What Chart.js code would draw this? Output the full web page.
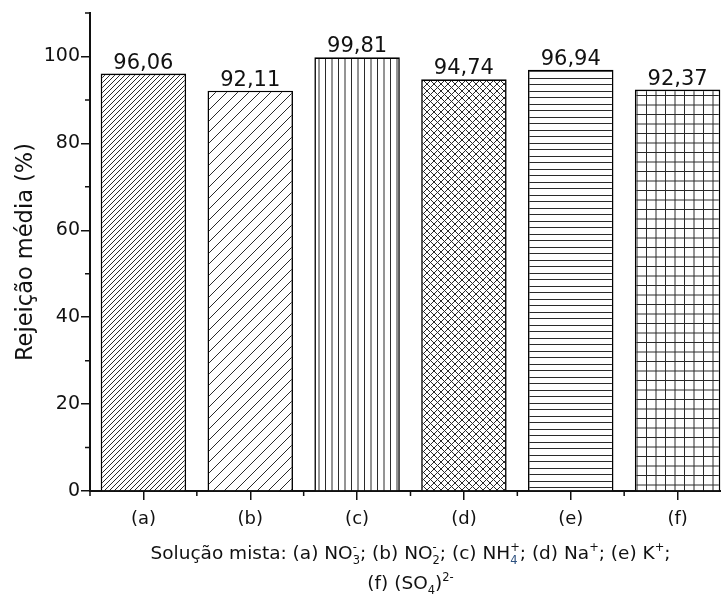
<!DOCTYPE html>
<html><head><meta charset="utf-8">
<script src="https://cdn.jsdelivr.net/npm/chart.js@4.4.0/dist/chart.umd.min.js"></script>
<style>
html,body{margin:0;padding:0;background:#fff;overflow:hidden;width:721px;height:594px}
#wrap{position:relative;width:731px;height:594px}
</style>
</head><body><div id="wrap"><canvas id="c" width="731" height="594"></canvas></div>
<script>
// ---- data ----
const categories = ['(a)', '(b)', '(c)', '(d)', '(e)', '(f)'];
const values = [96.06, 92.11, 99.81, 94.74, 96.94, 92.37];
const yTickValues = [0, 20, 40, 60, 80, 100];
const yMinorTicks = [10, 30, 50, 70, 90, 110];
const yMin = 0, yMax = 110;
const yTitle = 'Rejeição média (%)';
const xTitleLine1 = [['Solução mista: (a) NO','n'],['3','sub'],['-','sup'],['; (b) NO','n'],['2','sub'],['-','sup'],
  ['; (c) NH','n'],['4','sub','#2b4f7e'],['+','sup'],['; (d) Na','n'],['+','sup'],['; (e) K','n'],['+','sup'],[';','n']];
const xTitleLine2 = [['(f) (SO','n'],['4','sub'],[')','n'],['2-','sup']];

const FAM = "'DejaVu Sans'";
const INK = '#111';
const HATCH = '#2a2a2a';

// ---- hatch patterns ----
function makePattern(w, h, draw) {
  const c = document.createElement('canvas');
  c.width = w; c.height = h;
  const g = c.getContext('2d');
  g.fillStyle = '#fff'; g.fillRect(0, 0, w, h);
  g.strokeStyle = HATCH; g.lineWidth = 1;
  draw(g, w, h);
  return c.getContext('2d').createPattern(c, 'repeat');
}
function diag(g, s, dir) {
  g.beginPath();
  if (dir > 0) { // "/"
    g.moveTo(-1, s + 1); g.lineTo(s + 1, -1);
    g.moveTo(-1, 1); g.lineTo(1, -1);
    g.moveTo(s - 1, s + 1); g.lineTo(s + 1, s - 1);
  } else { // "\"
    g.moveTo(-1, -1); g.lineTo(s + 1, s + 1);
    g.moveTo(s - 1, -1); g.lineTo(s + 1, 1);
    g.moveTo(-1, s - 1); g.lineTo(1, s + 1);
  }
  g.stroke();
}
const ctx = document.getElementById('c').getContext('2d');
const patterns = [
  makePattern(5, 5, (g, s) => diag(g, s, 1)),
  makePattern(11, 11, (g, s) => diag(g, s, 1)),
  makePattern(13, 4, (g) => { g.beginPath(); g.moveTo(0.5, 0); g.lineTo(0.5, 4); g.moveTo(7, 0); g.lineTo(7, 4); g.stroke(); }),
  makePattern(7, 7, (g, s) => { diag(g, s, 1); diag(g, s, -1); }),
  makePattern(4, 13, (g) => { g.beginPath(); g.moveTo(0, 0.5); g.lineTo(4, 0.5); g.moveTo(0, 6.5); g.lineTo(4, 6.5); g.stroke(); }),
  makePattern(19, 19, (g) => { g.beginPath();
    g.moveTo(0.5, 0); g.lineTo(0.5, 19); g.moveTo(10, 0); g.lineTo(10, 19);
    g.moveTo(0, 0.5); g.lineTo(19, 0.5); g.moveTo(0, 10); g.lineTo(19, 10); g.stroke(); })
];

// ---- rich text (sub/superscripts) ----
function drawRich(c, segs, cx, baseline, size) {
  const small = size * 0.62;
  const items = []; let x = 0; let lastSub = null;
  for (const [t, m, col] of segs) {
    const fs = m === 'n' ? size : small;
    c.font = fs + 'px ' + FAM;
    const w = c.measureText(t).width;
    let sx = x;
    if (m === 'sup' && lastSub) { sx = lastSub.x; x = Math.max(lastSub.x + lastSub.w, sx + w); }
    else { x += w; }
    const dy = m === 'sub' ? size * 0.28 : (m === 'sup' ? -size * 0.42 : 0);
    items.push({ t, fs, x: sx, dy, col: col || INK });
    lastSub = m === 'sub' ? { x: sx, w } : null;
  }
  const x0 = cx - x / 2;
  c.textAlign = 'left'; c.textBaseline = 'alphabetic';
  for (const it of items) {
    c.font = it.fs + 'px ' + FAM;
    c.fillStyle = it.col;
    c.fillText(it.t, x0 + it.x, baseline + it.dy);
  }
}

const extras = {
  id: 'extras',
  afterDatasetsDraw(chart) {
    const c = chart.ctx;
    const meta = chart.getDatasetMeta(0);
    c.save();
    c.font = '21px ' + FAM; c.fillStyle = INK;
    c.textAlign = 'center'; c.textBaseline = 'alphabetic';
    meta.data.forEach((bar, i) => {
      c.fillText(values[i].toFixed(2).replace('.', ','), bar.x, bar.y - 5);
    });
    c.restore();
  },
  afterDraw(chart) {
    const c = chart.ctx, xs = chart.scales.x, ys = chart.scales.y, area = chart.chartArea;
    c.save();
    c.strokeStyle = INK; c.lineWidth = 1.5;
    c.beginPath();
    for (const v of yMinorTicks) {
      const y = ys.getPixelForValue(v);
      c.moveTo(area.left - 5, y); c.lineTo(area.left, y);
    }
    const step = (area.right - area.left) / categories.length;
    for (let i = 0; i <= categories.length; i++) {
      const x = xs.getPixelForValue(0) - step / 2 + i * step;
      c.moveTo(x, area.bottom); c.lineTo(x, area.bottom + 5);
    }
    c.stroke();
    const cx = (area.left + area.right) / 2;
    drawRich(c, xTitleLine1, cx, area.bottom + 68, 18.5);
    drawRich(c, xTitleLine2, cx, area.bottom + 98, 18.5);
    c.restore();
  }
};

new Chart(ctx, {
  type: 'bar',
  data: {
    labels: categories,
    datasets: [{
      data: values,
      backgroundColor: patterns,
      borderColor: '#000',
      borderWidth: 1.6,
      barPercentage: 0.8,
      categoryPercentage: 1.0
    }]
  },
  options: {
    responsive: false,
    animation: false,
    devicePixelRatio: 1,
    layout: { padding: { top: 13, left: 0, right: 0, bottom: 0 } },
    plugins: { legend: { display: false }, tooltip: { enabled: false } },
    scales: {
      x: {
        offset: true,
        grid: { display: true, offset: false, drawOnChartArea: false, drawTicks: true, tickLength: 9, color: INK, lineWidth: 1.5 },
        border: { display: true, color: INK, width: 2 },
        ticks: { color: INK, font: { family: FAM, size: 18 }, padding: 9, maxRotation: 0 },
        afterFit(s) { s.height = 103; }
      },
      y: {
        min: yMin, max: yMax,
        afterBuildTicks(s) { s.ticks = yTickValues.map(v => ({ value: v })); },
        grid: { display: true, drawOnChartArea: false, drawTicks: true, tickLength: 9, color: INK, lineWidth: 1.5 },
        border: { display: true, color: INK, width: 2 },
        ticks: { color: INK, font: { family: FAM, size: 19 }, padding: 1 },
        title: { display: true, text: yTitle, color: INK, font: { family: FAM, size: 22.5, lineHeight: 1.2 }, padding: { top: 12.5, bottom: 0 } },
        afterFit(s) { s.width = 90; }
      }
    }
  },
  plugins: [extras]
});
</script>
</body></html>
